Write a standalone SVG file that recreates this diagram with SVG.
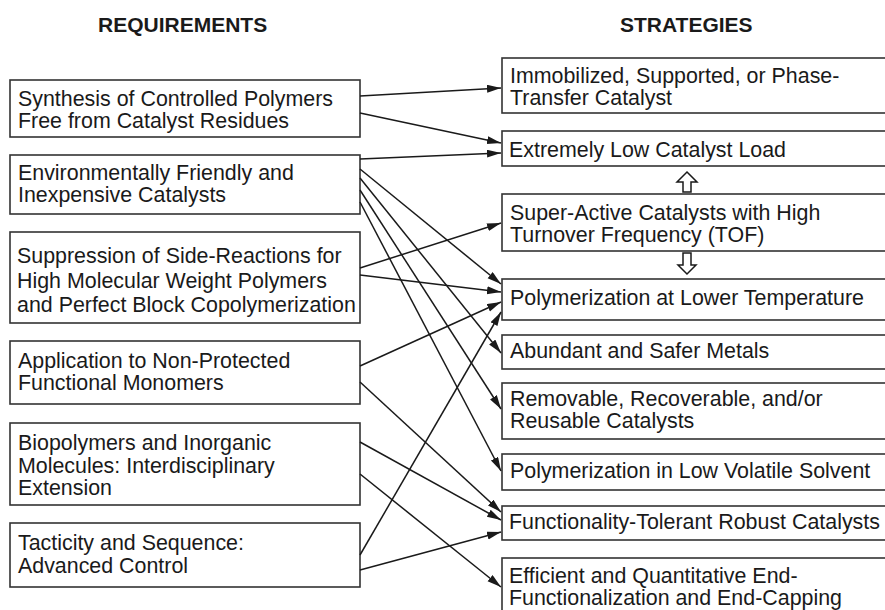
<svg xmlns="http://www.w3.org/2000/svg" width="885" height="610" viewBox="0 0 885 610">
<defs>
<style>
.box{fill:#fff;stroke:#333;stroke-width:1.6}
.t{font-family:"Liberation Sans",Arial,sans-serif;font-size:21.4px;fill:#1a1a1a}
.h{font-family:"Liberation Sans",Arial,sans-serif;font-size:21px;font-weight:bold;fill:#1a1a1a}
.c{fill:none;stroke:#1a1a1a;stroke-width:1.5;marker-end:url(#ah)}
.hollow{fill:#fff;stroke:#1a1a1a;stroke-width:1.5}
</style>
<marker id="ah" markerUnits="userSpaceOnUse" markerWidth="15" markerHeight="10" refX="14" refY="4" orient="auto">
<path d="M0,0 L14,4 L0,8 Z" fill="#1a1a1a"/>
</marker>
</defs>
<rect width="885" height="610" fill="#fff"/>
<text class="h" x="98" y="32">REQUIREMENTS</text>
<text class="h" x="620" y="32">STRATEGIES</text>

<g id="req1"><rect class="box" x="10" y="80" width="350" height="57"/><text class="t" x="18" y="106">Synthesis of Controlled Polymers</text><text class="t" x="18" y="128">Free from Catalyst Residues</text></g>
<g id="req2"><rect class="box" x="10" y="155" width="350" height="59"/><text class="t" x="18" y="180">Environmentally Friendly and</text><text class="t" x="18" y="202">Inexpensive Catalysts</text></g>
<g id="req3"><rect class="box" x="10" y="232" width="350" height="91"/><text class="t" x="17" y="263">Suppression of Side-Reactions for</text><text class="t" x="17" y="288">High Molecular Weight Polymers</text><text class="t" x="17" y="312">and Perfect Block Copolymerization</text></g>
<g id="req4"><rect class="box" x="10" y="341" width="350" height="63"/><text class="t" x="18" y="368">Application to Non-Protected</text><text class="t" x="18" y="390">Functional Monomers</text></g>
<g id="req5"><rect class="box" x="10" y="423" width="350" height="82"/><text class="t" x="18" y="450">Biopolymers and Inorganic</text><text class="t" x="18" y="473">Molecules: Interdisciplinary</text><text class="t" x="18" y="495">Extension</text></g>
<g id="req6"><rect class="box" x="10" y="523" width="350" height="64"/><text class="t" x="18" y="550">Tacticity and Sequence:</text><text class="t" x="18" y="573">Advanced Control</text></g>

<g id="str1"><rect class="box" x="502" y="58" width="390" height="55"/><text class="t" x="510" y="83">Immobilized, Supported, or Phase-</text><text class="t" x="510" y="105">Transfer Catalyst</text></g>
<g id="str2"><rect class="box" x="502" y="131" width="390" height="35"/><text class="t" x="509" y="157">Extremely Low Catalyst Load</text></g>
<g id="str3"><rect class="box" x="502" y="194" width="390" height="57"/><text class="t" x="510" y="220">Super-Active Catalysts with High</text><text class="t" x="510" y="242">Turnover Frequency (TOF)</text></g>
<g id="str4"><rect class="box" x="502" y="279" width="390" height="41"/><text class="t" x="510" y="305">Polymerization at Lower Temperature</text></g>
<g id="str5"><rect class="box" x="502" y="335" width="390" height="34"/><text class="t" x="510" y="358">Abundant and Safer Metals</text></g>
<g id="str6"><rect class="box" x="502" y="383" width="390" height="56"/><text class="t" x="510" y="406">Removable, Recoverable, and/or</text><text class="t" x="510" y="428">Reusable Catalysts</text></g>
<g id="str7"><rect class="box" x="502" y="454" width="390" height="36"/><text class="t" x="510" y="478">Polymerization in Low Volatile Solvent</text></g>
<g id="str8"><rect class="box" x="502" y="506" width="390" height="34"/><text class="t" x="509" y="529">Functionality-Tolerant Robust Catalysts</text></g>
<g id="str9"><rect class="box" x="502" y="558" width="390" height="60"/><text class="t" x="509" y="583">Efficient and Quantitative End-</text><text class="t" x="509" y="605">Functionalization and End-Capping</text></g>

<g id="hollow-arrows">
<path class="hollow" d="M687,172 L697,182 L691,182 L691,192 L683,192 L683,182 L677,182 Z"/>
<path class="hollow" d="M687,274 L678,265 L683,265 L683,253 L691,253 L691,265 L696,265 Z"/>
</g>

<g id="connectors">
<line class="c" x1="360" y1="96" x2="501" y2="88"/>
<line class="c" x1="360" y1="113" x2="501" y2="143"/>
<line class="c" x1="360" y1="159" x2="501" y2="153"/>
<line class="c" x1="360" y1="169" x2="501" y2="284"/>
<line class="c" x1="360" y1="178" x2="501" y2="353"/>
<line class="c" x1="360" y1="190" x2="501" y2="409"/>
<line class="c" x1="360" y1="202" x2="501" y2="471"/>
<line class="c" x1="360" y1="268" x2="501" y2="223"/>
<line class="c" x1="360" y1="275" x2="501" y2="292"/>
<line class="c" x1="360" y1="366" x2="501" y2="302"/>
<line class="c" x1="360" y1="382" x2="501" y2="512"/>
<line class="c" x1="360" y1="442" x2="501" y2="520"/>
<line class="c" x1="360" y1="474" x2="501" y2="587"/>
<line class="c" x1="360" y1="555" x2="501" y2="312"/>
<line class="c" x1="360" y1="570" x2="501" y2="532"/>
</g>
</svg>
